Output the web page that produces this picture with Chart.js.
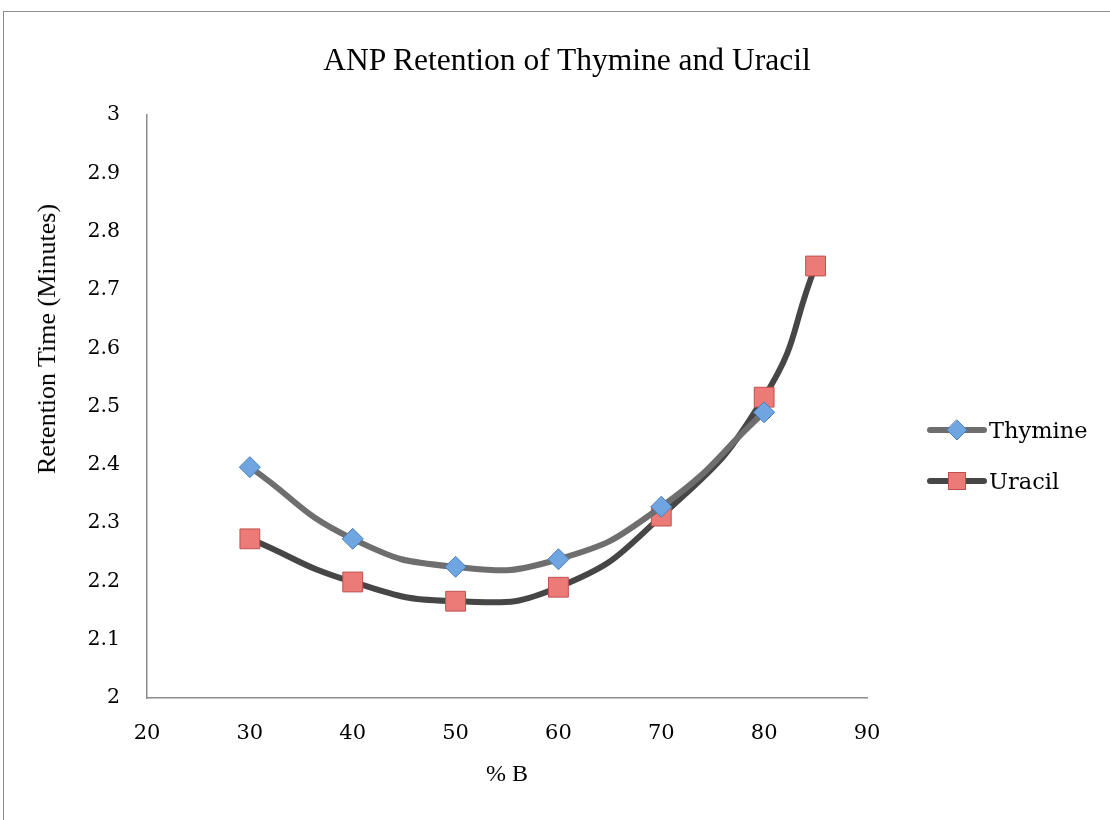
<!DOCTYPE html>
<html>
<head>
<meta charset="utf-8">
<script src="https://cdn.jsdelivr.net/npm/chart.js@4"></script>
<style>
  html, body { margin: 0; padding: 0; background: #fff; overflow: hidden; }
  #wrap { position: relative; width: 1110px; height: 820px; }
  #frame { position: absolute; left: 3px; top: 11px; width: 1130px; height: 840px; border: 1.5px solid #8c8c8c; box-sizing: border-box; }
  #chart { position: absolute; left: 0; top: 0; }
  #title { position: absolute; left: 267px; width: 600px; top: 40px; text-align: center; font-family: "Liberation Serif", serif; font-size: 31.5px; line-height: 40px; color: #000; white-space: nowrap; }
  #ytitle { position: absolute; left: 47px; top: 339px; transform: translate(-50%, -50%) rotate(-90deg); font-family: "Liberation Serif", serif; font-size: 26px; line-height: 30px; color: #000; white-space: nowrap; }
  .leg { position: absolute; left: 926px; font-family: "DejaVu Serif", serif; font-size: 22.5px; color: #000; display: flex; align-items: center; }
  .leg canvas { margin-right: 1px; }
</style>
</head>
<body>
<div id="wrap">
  <div id="frame"></div>
  <canvas id="chart" width="1110" height="820"></canvas>
  <div id="title">ANP Retention of Thymine and Uracil</div>
  <div id="ytitle">Retention Time (Minutes)</div>
  <div class="leg" style="top:416px"><canvas id="legT" width="62" height="28"></canvas>Thymine</div>
  <div class="leg" style="top:467px"><canvas id="legU" width="62" height="28"></canvas>Uracil</div>
</div>
<script>
// % B values
const thymineX = [30, 40, 50, 60, 70, 80];
const thymineY = [2.396, 2.273, 2.225, 2.238, 2.328, 2.490];
const uracilX = [30, 40, 50, 60, 70, 80, 85];
const uracilY = [2.273, 2.199, 2.166, 2.190, 2.312, 2.516, 2.741];

const serif = '"Liberation Serif", serif';
const tickFont = '"DejaVu Serif", serif';

// marker look
const thymineLine = '#6e6e6e';
const uracilLine = '#464646';
const diamondFill = '#6fa5e0';
const diamondBorder = '#4a7ebb';
const squareFill = '#ec7b78';
const squareBorder = '#c0504d';

function toPoints(xs, ys) {
    return xs.map((x, i) => ({ x: x, y: ys[i] }));
}

// legend icons: line with marker in the middle
function drawLegendIcon(id, lineColor, style) {
    const c = document.getElementById(id).getContext('2d');
    c.strokeStyle = lineColor;
    c.lineWidth = 6;
    c.lineCap = 'round';
    c.beginPath();
    c.moveTo(4, 14);
    c.lineTo(58, 14);
    c.stroke();
    c.lineWidth = 1;
    if (style === 'diamond') {
        c.fillStyle = diamondFill;
        c.strokeStyle = diamondBorder;
        c.beginPath();
        c.moveTo(31, 4); c.lineTo(41, 14); c.lineTo(31, 24); c.lineTo(21, 14);
        c.closePath();
        c.fill(); c.stroke();
    } else {
        c.fillStyle = squareFill;
        c.strokeStyle = squareBorder;
        c.fillRect(22, 5, 18, 18);
        c.strokeRect(22.5, 5.5, 17, 17);
    }
}
drawLegendIcon('legT', thymineLine, 'diamond');
drawLegendIcon('legU', uracilLine, 'square');

const ctx = document.getElementById('chart').getContext('2d');
new Chart(ctx, {
    type: 'scatter',
    data: {
        datasets: [
            {
                label: 'Uracil',
                data: toPoints(uracilX, uracilY),
                showLine: true,
                tension: 0.5,
                borderColor: uracilLine,
                borderWidth: 6,
                pointStyle: 'rect',
                pointRadius: 14,
                pointBackgroundColor: squareFill,
                pointBorderColor: squareBorder,
                pointBorderWidth: 1,
                order: 2
            },
            {
                label: 'Thymine',
                data: toPoints(thymineX, thymineY),
                showLine: true,
                tension: 0.5,
                borderColor: thymineLine,
                borderWidth: 6,
                pointStyle: 'rectRot',
                pointRadius: 10.5,
                pointBackgroundColor: diamondFill,
                pointBorderColor: diamondBorder,
                pointBorderWidth: 1,
                order: 1
            }
        ]
    },
    options: {
        responsive: false,
        animation: false,
        layout: { padding: { left: 0, right: 243, top: 115, bottom: 0 } },
        plugins: {
            legend: { display: false },
            tooltip: { enabled: false }
        },
        scales: {
            x: {
                type: 'linear',
                min: 20,
                max: 90,
                grid: { display: false },
                border: { display: true, color: '#8c8c8c', width: 1.5 },
                ticks: { stepSize: 10, color: '#000', padding: 15, font: { family: tickFont, size: 21 } },
                title: { display: true, text: '% B', color: '#000', font: { family: serif, size: 24 }, padding: { top: 0, bottom: 31 } },
                afterFit: s => { s.height = 122; }
            },
            y: {
                min: 2,
                max: 3,
                grid: { display: false },
                border: { display: true, color: '#8c8c8c', width: 1.5 },
                ticks: {
                    stepSize: 0.1,
                    color: '#000',
                    padding: 19,
                    font: { family: tickFont, size: 20.5 },
                    callback: v => Math.round(v * 10) / 10
                },
                afterFit: s => { s.width = 147; }
            }
        }
    }
});
</script>
</body>
</html>
